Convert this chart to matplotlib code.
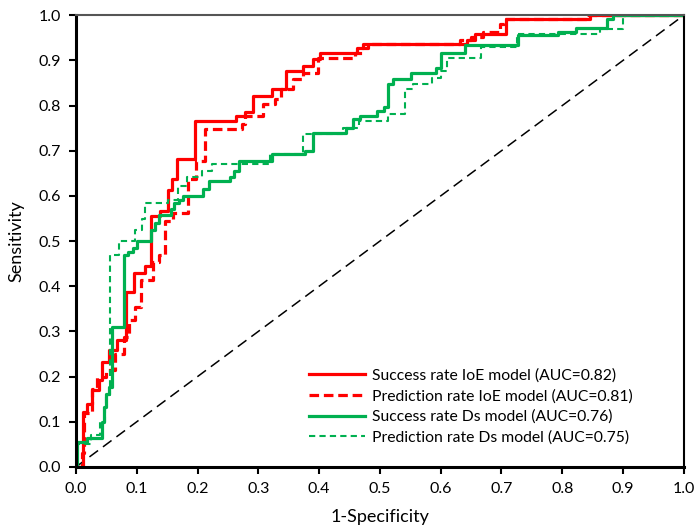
"""ROC curves: success / prediction rate for IoE and Ds models."""

import matplotlib

matplotlib.use("Agg")
import matplotlib.pyplot as plt

plt.rcParams["font.family"] = ["Lato", "DejaVu Sans"]

# step points: x = 1-specificity where the curve rises, y = level after the rise
ioe_success_x = [0.0, 0.012, 0.018, 0.027, 0.038, 0.043, 0.054, 0.068, 0.082, 0.095,
                 0.113, 0.124, 0.138, 0.151, 0.158, 0.166, 0.196, 0.264, 0.278, 0.292,
                 0.322, 0.346, 0.374, 0.390, 0.401, 0.462, 0.473, 0.643, 0.656, 0.708,
                 0.845, 1.0]
ioe_success_y = [0.0, 0.122, 0.140, 0.170, 0.192, 0.233, 0.258, 0.280, 0.387, 0.429,
                 0.445, 0.556, 0.567, 0.613, 0.637, 0.681, 0.766, 0.777, 0.785, 0.821,
                 0.836, 0.877, 0.888, 0.903, 0.917, 0.928, 0.936, 0.945, 0.958, 0.992,
                 1.0, 1.0]

ioe_pred_x = [0.0, 0.010, 0.013, 0.026, 0.035, 0.050, 0.065, 0.079, 0.087, 0.097,
              0.107, 0.127, 0.136, 0.147, 0.160, 0.185, 0.198, 0.212, 0.273, 0.278,
              0.308, 0.327, 0.338, 0.357, 0.374, 0.398, 0.459, 0.470, 0.480, 0.632,
              0.650, 0.670, 0.697, 0.705, 0.840, 1.0]
ioe_pred_y = [0.0, 0.030, 0.120, 0.173, 0.200, 0.214, 0.250, 0.288, 0.325, 0.354,
              0.413, 0.453, 0.470, 0.545, 0.563, 0.637, 0.678, 0.748, 0.759, 0.777,
              0.803, 0.814, 0.836, 0.858, 0.873, 0.906, 0.917, 0.928, 0.936, 0.945,
              0.952, 0.963, 0.980, 0.992, 1.0, 1.0]

ds_success_x = [0.0, 0.002, 0.018, 0.043, 0.046, 0.050, 0.054, 0.060, 0.079, 0.086,
                0.094, 0.100, 0.124, 0.130, 0.136, 0.157, 0.162, 0.170, 0.176, 0.209,
                0.219, 0.253, 0.260, 0.268, 0.322, 0.377, 0.390, 0.445, 0.455, 0.468,
                0.495, 0.506, 0.514, 0.522, 0.552, 0.593, 0.601, 0.640, 0.727, 0.793,
                0.823, 0.873, 0.883, 1.0]
ds_success_y = [0.0, 0.055, 0.063, 0.100, 0.133, 0.162, 0.177, 0.310, 0.469, 0.475,
                0.485, 0.500, 0.525, 0.540, 0.557, 0.570, 0.585, 0.592, 0.600, 0.615,
                0.633, 0.643, 0.656, 0.678, 0.692, 0.700, 0.740, 0.751, 0.770, 0.777,
                0.788, 0.796, 0.847, 0.858, 0.873, 0.884, 0.917, 0.934, 0.956, 0.963,
                0.971, 0.991, 1.0, 1.0]

ds_pred_x = [0.0, 0.002, 0.025, 0.040, 0.047, 0.050, 0.056, 0.070, 0.097, 0.108,
             0.113, 0.151, 0.168, 0.182, 0.207, 0.223, 0.320, 0.374, 0.440, 0.465,
             0.514, 0.541, 0.555, 0.585, 0.600, 0.610, 0.667, 0.725, 0.862, 0.900,
             1.0]
ds_pred_y = [0.0, 0.050, 0.070, 0.100, 0.130, 0.160, 0.470, 0.500, 0.525, 0.550,
             0.585, 0.590, 0.623, 0.641, 0.656, 0.670, 0.692, 0.737, 0.750, 0.766,
             0.781, 0.836, 0.847, 0.862, 0.877, 0.905, 0.930, 0.958, 0.969, 1.0,
             1.0]

RED = "#ff0000"
GREEN = "#00b050"

fig = plt.figure(figsize=(6.97, 5.27), dpi=100)
ax = fig.add_axes([0.109, 0.114, 0.872, 0.857])

ax.plot([0, 1], [0, 1], color="black", lw=1.1, dashes=(7, 4))
ax.plot(ioe_success_x, ioe_success_y, drawstyle="steps-post", color=RED, lw=2.3,
        label="Success rate IoE model (AUC=0.82)")
ax.plot(ioe_pred_x, ioe_pred_y, drawstyle="steps-post", color=RED, lw=2.3,
        dashes=(3, 1.5), label="Prediction rate IoE model (AUC=0.81)")
ax.plot(ds_success_x, ds_success_y, drawstyle="steps-post", color=GREEN, lw=2.3,
        label="Success rate Ds model (AUC=0.76)")
ax.plot(ds_pred_x, ds_pred_y, drawstyle="steps-post", color=GREEN, lw=1.5,
        dashes=(3, 2), label="Prediction rate Ds model (AUC=0.75)")

ax.set_xlim(0, 1)
ax.set_ylim(0, 1)
ax.set_xticks([i / 10 for i in range(11)])
ax.set_yticks([i / 10 for i in range(11)])
ax.xaxis.set_major_formatter(matplotlib.ticker.FormatStrFormatter("%.1f"))
ax.yaxis.set_major_formatter(matplotlib.ticker.FormatStrFormatter("%.1f"))
ax.tick_params(direction="out", length=5, width=1.5, labelsize=11.5, pad=6)

for side in ("left", "bottom"):
    ax.spines[side].set_linewidth(2.2)
ax.spines["right"].set_linewidth(1.5)
ax.spines["top"].set_linewidth(1.5)
ax.spines["top"].set_color("#555555")

ax.set_xlabel("1-Specificity", fontsize=13, labelpad=9)
ax.set_ylabel("Sensitivity", fontsize=13, labelpad=10)

ax.legend(loc="lower left", bbox_to_anchor=(0.36, 0.018), frameon=False,
          fontsize=11.3, handlelength=3.6, handletextpad=0.4, labelspacing=0.4)

fig.savefig("out.png", dpi=100)
